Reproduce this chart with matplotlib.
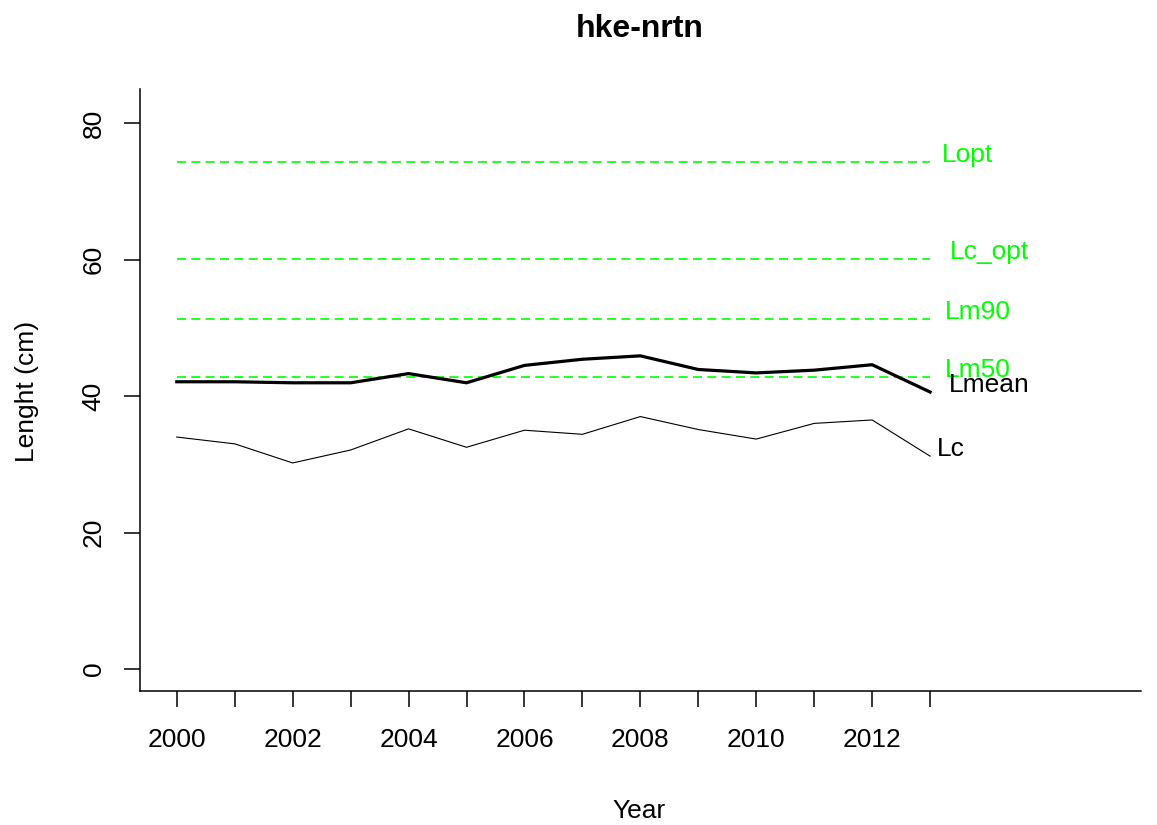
import matplotlib
matplotlib.use("Agg")
import matplotlib.pyplot as plt
import numpy as np

plt.rcParams['font.family'] = ['Liberation Sans', 'DejaVu Sans']

# Stock: hake, northern stock
title = "hke-nrtn"
years = [2000, 2001, 2002, 2003, 2004, 2005, 2006, 2007, 2008, 2009, 2010, 2011, 2012, 2013]
lmean = [42.1, 42.1, 41.95, 41.95, 43.3, 41.95, 44.5, 45.4, 45.9, 43.9, 43.4, 43.8, 44.6, 40.6]
lc = [34.0, 33.0, 30.2, 32.1, 35.2, 32.5, 35.0, 34.4, 37.0, 35.1, 33.7, 36.0, 36.5, 31.2]

ref_names = ["Lopt", "Lc_opt", "Lm90", "Lm50"]
ref_values = [74.3, 60.1, 51.3, 42.8]

y_ticks = [0, 20, 40, 60, 80]
x_tick_labels = ["2000", "", "2002", "", "2004", "", "2006", "", "2008", "", "2010", "", "2012", ""]

W, H = 1157, 825
fig = plt.figure(figsize=(W / 100, H / 100), dpi=100)
left, right, top, bottom = 139.7, 1141, 89.3, 691.3
ax = fig.add_axes([left / W, 1 - bottom / H, (right - left) / W, (bottom - top) / H])

# R-style axis limits: data range plus 4% on each side
def padded(lo, hi):
    r = hi - lo
    return lo - 0.04 * r, hi + 0.04 * r

ax.set_xlim(*padded(2000, 2016))
ax.set_ylim(*padded(0, 81.7))

FS = 19
green = "#00FF00"

# reference lengths
for name, v in zip(ref_names, ref_values):
    ax.plot([years[0], years[-1]], [v, v], color=green, lw=1.2,
            dashes=(5.4, 3.2))

ax.plot(years, lmean, color="black", lw=2.3, solid_joinstyle="round")
ax.plot(years, lc, color="black", lw=0.8)

label_x = {"Lopt": 13.65, "Lc_opt": 14.02, "Lm90": 13.83, "Lm50": 13.83}
for name, v in zip(ref_names, ref_values):
    ax.text(2000 + label_x[name], v, name, color=green, fontsize=FS,
            ha="center", va="baseline")
ax.text(2014.02, lmean[-1], "Lmean", color="black", fontsize=FS,
        ha="center", va="baseline")
ax.text(2013.36, lc[-1], "Lc", color="black", fontsize=FS,
        ha="center", va="baseline")

for s in ("top", "right"):
    ax.spines[s].set_visible(False)
for s in ("left", "bottom"):
    ax.spines[s].set_linewidth(1.1)

ax.set_xticks(years)
ax.set_xticklabels(x_tick_labels)
ax.set_yticks(y_ticks)
ax.set_yticklabels([str(t) for t in y_ticks], rotation=90, va="center")
ax.tick_params(axis="both", direction="out", length=11.5, width=1.1,
               labelsize=FS, colors="black")
ax.tick_params(axis="x", pad=15)
ax.tick_params(axis="y", pad=13)

fig.text(639.5 / W, 1 - 37 / H, title, fontsize=23, fontweight="bold",
         ha="center", va="baseline")
fig.text(639.5 / W, 1 - 818 / H, "Year", fontsize=FS, ha="center", va="baseline")
fig.text(34 / W, 1 - 391 / H, "Lenght (cm)", fontsize=FS, rotation=90,
         rotation_mode="anchor", ha="center", va="baseline")

fig.savefig("out.png", dpi=100)
